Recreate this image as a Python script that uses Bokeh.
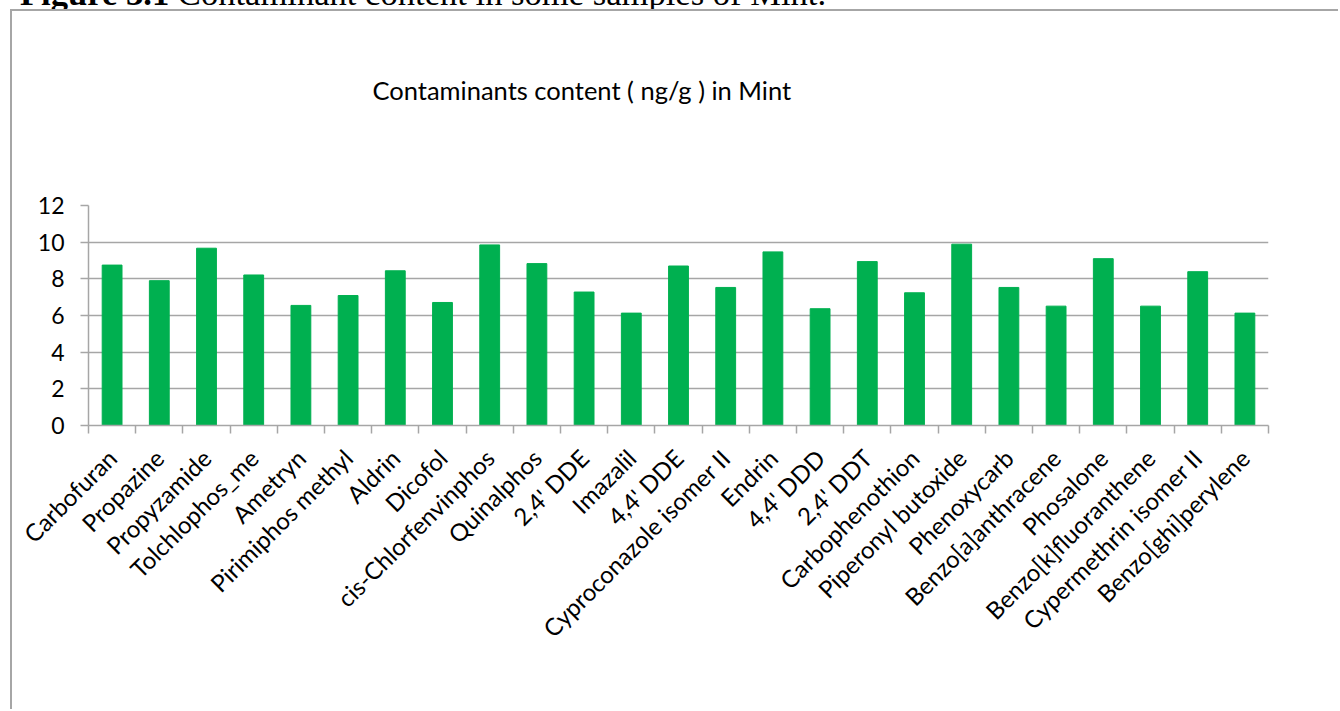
import math
from bokeh.plotting import figure
from bokeh.models import FixedTicker, Range1d, Title, Div, ColumnDataSource
from bokeh.layouts import column
from bokeh.embed import file_html
from bokeh.resources import INLINE

categories = ["Carbofuran", "Propazine", "Propyzamide", "Tolchlophos_me", "Ametryn",
              "Pirimiphos methyl", "Aldrin", "Dicofol", "cis-Chlorfenvinphos", "Quinalphos",
              "2,4' DDE", "Imazalil", "4,4' DDE", "Cyproconazole isomer II", "Endrin",
              "4,4' DDD", "2,4' DDT", "Carbophenothion", "Piperonyl butoxide", "Phenoxycarb",
              "Benzo[a]anthracene", "Phosalone", "Benzo[k]fluoranthene", "Cypermethrin isomer II",
              "Benzo[ghi]perylene"]
values = [8.75, 7.90, 9.67, 8.21, 6.55, 7.09, 8.44, 6.71, 9.85, 8.83, 7.28, 6.13, 8.70,
          7.53, 9.47, 6.37, 8.94, 7.24, 9.89, 7.53, 6.51, 9.10, 6.51, 8.39, 6.13]
y_ticks = [0, 2, 4, 6, 8, 10, 12]
chart_title = "Contaminants content ( ng/g ) in Mint"
fig_caption_bold = "Figure 3.1"
fig_caption_rest = " Contaminant content in some samples of Mint."

n = len(categories)
centers = [i + 0.5 for i in range(n)]
bounds = list(range(n + 1))
src = ColumnDataSource(dict(x=centers, top=values))

FONT = "Lato"
GRAY = "#a6a6a6"

p = figure(width=1328, height=700, output_backend="svg", toolbar_location=None,
           x_range=Range1d(0, n), y_range=Range1d(0, 12),
           min_border_left=76, min_border_right=72, min_border_top=194, min_border_bottom=286)
p.outline_line_color = None
p.background_fill_color = "white"
p.border_fill_color = "white"

p.vbar(x="x", top="top", width=0.42, source=src, fill_color="#00B050", line_color="#00B050")

xa = p.xaxis[0]
xa.ticker = FixedTicker(ticks=centers, minor_ticks=bounds)
xa.major_label_overrides = {c: name for c, name in zip(centers, categories)}
xa.major_tick_line_color = None
xa.minor_tick_in = 0
xa.minor_tick_out = 8
xa.minor_tick_line_color = GRAY
xa.minor_tick_line_width = 1.5
xa.axis_line_color = GRAY
xa.axis_line_width = 1.5
xa.major_label_orientation = math.pi / 4
xa.major_label_text_font = FONT
xa.major_label_text_font_size = "24px"
xa.major_label_text_color = "black"
xa.major_label_standoff = 20

ya = p.yaxis[0]
ya.ticker = FixedTicker(ticks=y_ticks)
ya.major_tick_in = 0
ya.major_tick_out = 8
ya.major_tick_line_color = GRAY
ya.major_tick_line_width = 1.5
ya.minor_tick_line_color = None
ya.axis_line_color = GRAY
ya.axis_line_width = 1.5
ya.major_label_text_font = FONT
ya.major_label_text_font_size = "23px"
ya.major_label_text_color = "black"
ya.major_label_standoff = 16

p.xgrid.grid_line_color = None
p.ygrid.grid_line_color = GRAY
p.ygrid.grid_line_width = 1.5

# spacer panel next to the frame, then the real title further out
p.add_layout(Title(text=" ", standoff=26, text_font=FONT, text_font_size="10px"), "above")
p.add_layout(Title(text=chart_title, align="left", offset=284, standoff=121,
                   text_font=FONT, text_font_size="25.5px", text_font_style="normal",
                   text_color="black"), "above")

p.margin = (0, 0, 0, 10)
p.styles = {"border-left": "2px solid #a6a6a6", "border-top": "2px solid #a6a6a6"}

cap = Div(text=('<div style="white-space:nowrap; font-family:\'Liberation Serif\'; font-size:34.6px; '
                'line-height:34px; position:absolute; top:-24px; left:20px; color:black; margin:0; padding:0;">'
                '<b>' + fig_caption_bold + '</b>' + fig_caption_rest + '</div>'),
          width=1340, height=9, margin=(0, 0, 0, 0),
          styles={"overflow": "hidden", "position": "relative", "padding": "0", "margin": "0"})

layout = column(cap, p, spacing=0)
open("out.html", "w").write(file_html(layout, INLINE))
